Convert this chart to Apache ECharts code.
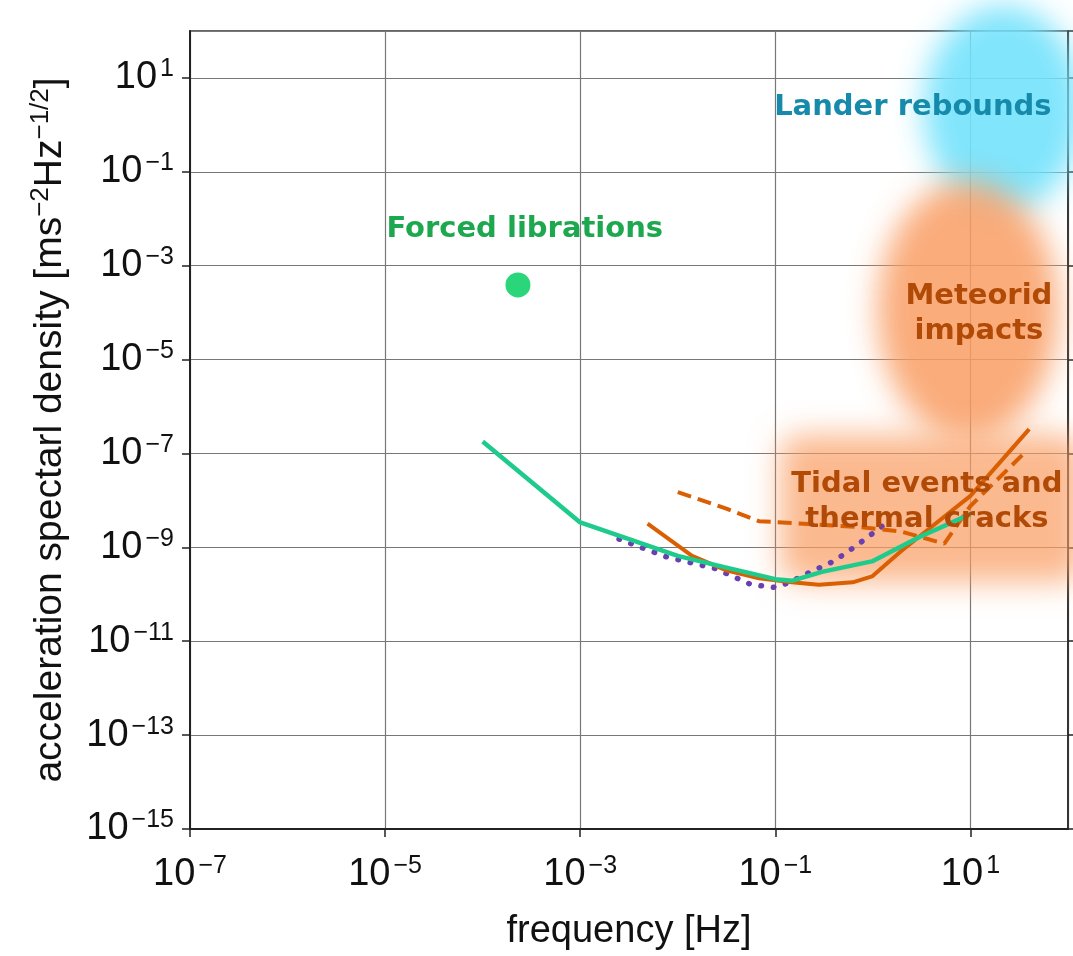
<!DOCTYPE html>
<html><head><meta charset="utf-8">
<script src="https://cdn.jsdelivr.net/npm/echarts@6/dist/echarts.min.js"></script>
<style>html,body{margin:0;padding:0;background:#fff}#c{width:1073px;height:956px}</style>
</head><body><div id="c"></div>
<script>
// ---- data (frequency in Hz, acceleration spectral density in m s^-2 Hz^-1/2) ----
const xTickExponents = [-7, -5, -3, -1, 1];
const yTickExponents = [1, -1, -3, -5, -7, -9, -11, -13, -15];
const X_MIN_EXP = -7, X_MAX_EXP = 2;
const Y_MIN_EXP = -15, Y_MAX_EXP = 2;

const greenFreq = [1e-4, 1e-3, 1e-2, 3e-2, 1e-1, 1.5e-1, 3e-1, 1, 3, 10];
const greenAsd  = [1.8e-7, 3.4e-9, 6.6e-10, 3.8e-10, 2.1e-10, 1.95e-10, 3.0e-10, 5.1e-10, 1.66e-9, 5.1e-9];

const purpleFreq = [2.5e-3, 7.6e-3, 2.45e-2, 5.7e-2, 0.1, 0.14, 0.23, 0.4, 0.67, 1.35];
const purpleAsd  = [1.5e-9, 6.3e-10, 3.5e-10, 1.6e-10, 1.4e-10, 1.8e-10, 3.0e-10, 5.1e-10, 1.07e-9, 3.2e-9];

const orangeFreq = [4.9e-3, 1.4e-2, 3.2e-2, 6.8e-2, 0.148, 0.28, 0.62, 0.98, 1.9, 3.5, 10, 40];
const orangeAsd  = [3.2e-9, 6.6e-10, 3.2e-10, 2.2e-10, 1.8e-10, 1.6e-10, 1.8e-10, 2.4e-10, 8e-10, 2.2e-9, 1.25e-8, 3.3e-7];

const dashedFreq = [1e-2, 3.2e-2, 6.8e-2, 0.148, 0.72, 1.9, 5.4, 10, 37];
const dashedAsd  = [1.5e-8, 6.6e-9, 3.6e-9, 3.3e-9, 2.7e-9, 2.2e-9, 1.2e-9, 7.6e-9, 1.1e-7];

const libFreq = [2.3e-4];
const libAsd  = [3.9e-4];

// annotation regions [freqLow, freqHigh], [asdHigh, asdLow]
const landerRegion   = {f: [Math.pow(10, 0.52), Math.pow(10, 2.15)], a: [Math.pow(10, 2.55), Math.pow(10, -1.85)]};
const meteoridRegion = {f: [Math.pow(10, 0.05), Math.pow(10, 1.9)], a: [Math.pow(10, -1.2), Math.pow(10, -6.7)]};
const tidalRegion    = {f: [Math.pow(10, -0.95), Math.pow(10, 2.15)], a: [Math.pow(10, -6.6), Math.pow(10, -9.75)]};

const annotations = [
  {text: 'Forced librations', at: [2.7e-4, 5.8e-3], color: '#1da84f'},
  {text: 'Lander rebounds', at: [2.57, 2.4], color: '#168aab'},
  {text: 'Meteorid\nimpacts', at: [12.2, 9.4e-5], color: '#b04a06'},
  {text: 'Tidal events and\nthermal cracks', at: [3.58, 9.3e-9], color: '#b04a06'}
];

const xName = 'frequency [Hz]';

// ---- helpers ----
const toX = f => Math.log10(f) - X_MIN_EXP;
const toY = a => Math.log10(a) - Y_MIN_EXP;
const pairs = (fs, as) => fs.map((f, i) => [toX(f), toY(as[i])]);
const sup = e => (e < 0 ? '\u2212' : '') + Math.abs(e);

const tickFont = "'Liberation Sans',sans-serif";
const nameFont = "'Liberation Sans',sans-serif";
const labelRich = {
  b: {fontSize: 38, fontFamily: tickFont, color: '#111'},
  s: {fontSize: 25, fontFamily: tickFont, color: '#111', padding: [0, 0, 17, 3]}
};

const chart = echarts.init(document.getElementById('c'), null, {renderer: 'canvas'});

const option = {
  backgroundColor: '#fff',
  animation: false,
  grid: {left: 190, right: 5, top: 31, bottom: 127, show: true, borderColor: '#333', borderWidth: 1.5, backgroundColor: 'transparent'},
  xAxis: {
    type: 'value', min: 0, max: X_MAX_EXP - X_MIN_EXP, interval: 2,
    name: xName, nameLocation: 'middle', nameGap: 84,
    nameTextStyle: {fontSize: 38, fontFamily: nameFont, color: '#111'},
    axisLine: {show: true, lineStyle: {color: '#222', width: 2}},
    axisTick: {show: true, inside: false, length: 8, lineStyle: {color: '#222', width: 1.5}},
    splitLine: {show: true, lineStyle: {color: '#777', width: 1.2}},
    axisLabel: {
      margin: 25, showMaxLabel: false, rich: labelRich,
      formatter: v => {
        const e = Math.round(v + X_MIN_EXP);
        return xTickExponents.indexOf(e) >= 0 ? '{b|10}{s|' + sup(e) + '}' : '';
      }
    }
  },
  yAxis: [{
    type: 'value', min: 0, max: Y_MAX_EXP - Y_MIN_EXP, interval: 2,
    name: '{n|acceleration spectarl density [ms}{s|\u22122}{n|Hz}{s|\u22121/2}{n|]}',
    nameLocation: 'middle', nameGap: 118,
    nameTextStyle: {
      rich: {
        n: {fontSize: 39, fontFamily: nameFont, color: '#111'},
        s: {fontSize: 26, fontFamily: nameFont, color: '#111', padding: [0, 0, 18, 0]}
      }
    },
    axisLine: {show: true, lineStyle: {color: '#222', width: 2}},
    axisTick: {show: true, inside: false, length: 8, lineStyle: {color: '#222', width: 1.5}},
    splitLine: {show: true, lineStyle: {color: '#777', width: 1.2}},
    axisLabel: {
      margin: 16, showMaxLabel: false, rich: labelRich,
      formatter: v => {
        const e = Math.round(v + Y_MIN_EXP);
        return yTickExponents.indexOf(e) >= 0 ? '{b|10}{s|' + sup(e) + '}' : '';
      }
    }
  }, {
    type: 'value', min: 0, max: Y_MAX_EXP - Y_MIN_EXP, interval: 2, position: 'right',
    axisLine: {show: true, lineStyle: {color: '#222', width: 1.5}},
    axisTick: {show: true, inside: false, length: 6, lineStyle: {color: '#222', width: 1.5}},
    splitLine: {show: false},
    axisLabel: {show: false}
  }],
  series: [
    {type: 'line', data: pairs(greenFreq, greenAsd), showSymbol: false, z: 3,
     lineStyle: {color: '#1fcb8c', width: 4.5}},
    {type: 'line', data: pairs(purpleFreq, purpleAsd), showSymbol: false, z: 2,
     lineStyle: {color: '#6a3fb0', width: 5.5, type: [0.5, 12], cap: 'round'}},
    {type: 'line', data: pairs(orangeFreq, orangeAsd), showSymbol: false, z: 2,
     lineStyle: {color: '#d95f02', width: 4}},
    {type: 'line', data: pairs(dashedFreq, dashedAsd), showSymbol: false, z: 2,
     lineStyle: {color: '#d95f02', width: 4, type: [14, 7]}},
    {type: 'scatter', data: pairs(libFreq, libAsd), symbolSize: 25, z: 3,
     itemStyle: {color: '#2bd67b', opacity: 1}}
  ]
};
chart.setOption(option);

// ---- annotation blobs and texts placed through the axes ----
const P = (f, a) => chart.convertToPixel({gridIndex: 0}, [toX(f), toY(a)]);
const OFF = 4000;
function blob(region, color, kind) {
  const p1 = P(region.f[0], region.a[0]);
  const p2 = P(region.f[1], region.a[1]);
  const x0 = Math.min(p1[0], p2[0]), x1 = Math.max(p1[0], p2[0]);
  const y0 = Math.min(p1[1], p2[1]), y1 = Math.max(p1[1], p2[1]);
  const style = {fill: color, shadowColor: color, shadowBlur: 30, shadowOffsetX: OFF};
  if (kind === 'ellipse') {
    return {type: 'ellipse', z: 1, silent: true, style,
      shape: {cx: (x0 + x1) / 2 - OFF, cy: (y0 + y1) / 2, rx: (x1 - x0) / 2, ry: (y1 - y0) / 2}};
  }
  return {type: 'rect', z: 1, silent: true, style,
    shape: {x: x0 - OFF, y: y0, width: x1 - x0, height: y1 - y0, r: 20}};
}
const graphics = [
  blob(landerRegion, 'rgba(115,226,252,0.95)', 'ellipse'),
  blob(meteoridRegion, 'rgba(249,158,100,0.92)', 'ellipse'),
  blob(tidalRegion, 'rgba(249,158,100,0.85)', 'rect')
];
annotations.forEach(an => {
  const p = P(an.at[0], an.at[1]);
  graphics.push({type: 'text', z: 10, silent: true, x: p[0], y: p[1],
    style: {text: an.text, fill: an.color, font: "bold 29px 'DejaVu Sans', sans-serif",
      align: 'center', verticalAlign: 'middle', lineHeight: 35}});
});
chart.setOption({graphic: graphics});
</script></body></html>
